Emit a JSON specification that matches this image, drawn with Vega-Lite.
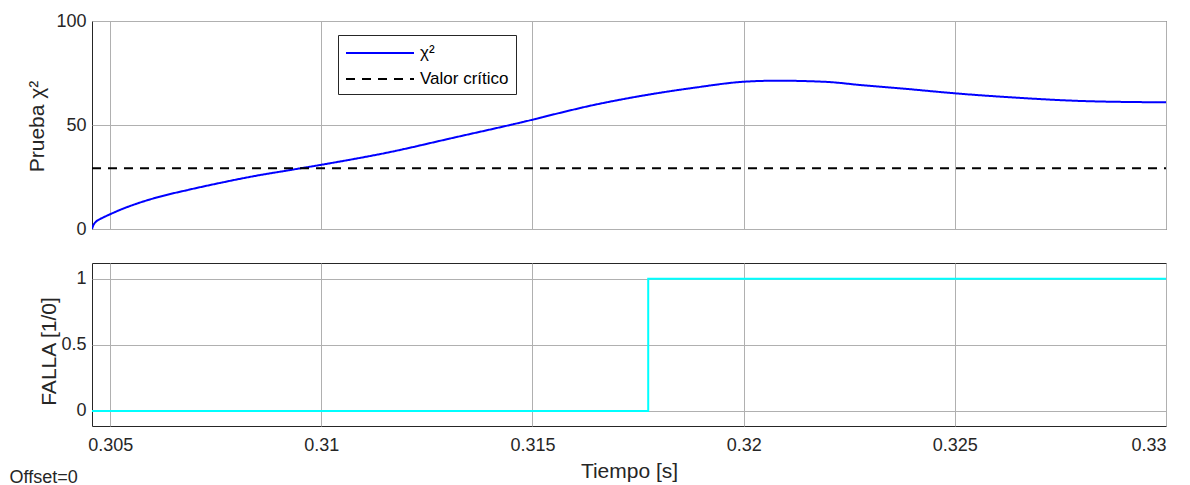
{
  "$schema": "https://vega.github.io/schema/vega-lite/v6.json",
  "padding": {"left": 9, "top": 11, "right": 5, "bottom": 2},
  "title": {"text": "Offset=0", "orient": "bottom", "anchor": "start", "frame": "bounds", "fontSize": 18, "fontWeight": "normal", "color": "#262626", "baseline": "alphabetic", "offset": 1, "dx": -16},
  "datasets": {
    "top": [
      {"t": 0.30457, "v": 0, "serie": "χ²"},
      {"t": 0.304597, "v": 1.6, "serie": "χ²"},
      {"t": 0.304621, "v": 2.5, "serie": "χ²"},
      {"t": 0.304668, "v": 3.6, "serie": "χ²"},
      {"t": 0.304763, "v": 4.8, "serie": "χ²"},
      {"t": 0.304882, "v": 6.0, "serie": "χ²"},
      {"t": 0.305, "v": 7.1, "serie": "χ²"},
      {"t": 0.30526, "v": 9.4, "serie": "χ²"},
      {"t": 0.30566, "v": 12.4, "serie": "χ²"},
      {"t": 0.306059, "v": 14.9, "serie": "χ²"},
      {"t": 0.306848, "v": 18.8, "serie": "χ²"},
      {"t": 0.307637, "v": 22.3, "serie": "χ²"},
      {"t": 0.308429, "v": 25.5, "serie": "χ²"},
      {"t": 0.309218, "v": 28.2, "serie": "χ²"},
      {"t": 0.310007, "v": 30.9, "serie": "χ²"},
      {"t": 0.311557, "v": 36.7, "serie": "χ²"},
      {"t": 0.313135, "v": 43.9, "serie": "χ²"},
      {"t": 0.315031, "v": 52.7, "serie": "χ²"},
      {"t": 0.315664, "v": 55.9, "serie": "χ²"},
      {"t": 0.316445, "v": 59.6, "serie": "χ²"},
      {"t": 0.317244, "v": 62.8, "serie": "χ²"},
      {"t": 0.318822, "v": 67.9, "serie": "χ²"},
      {"t": 0.320007, "v": 70.8, "serie": "χ²"},
      {"t": 0.320799, "v": 71.3, "serie": "χ²"},
      {"t": 0.321983, "v": 70.7, "serie": "χ²"},
      {"t": 0.322773, "v": 69.2, "serie": "χ²"},
      {"t": 0.32372, "v": 67.6, "serie": "χ²"},
      {"t": 0.325024, "v": 65.2, "serie": "χ²"},
      {"t": 0.326486, "v": 63.1, "serie": "χ²"},
      {"t": 0.328064, "v": 61.5, "serie": "χ²"},
      {"t": 0.33, "v": 60.9, "serie": "χ²"},
      {"t": 0.30457, "v": 29.2, "serie": "Valor crítico"},
      {"t": 0.33, "v": 29.2, "serie": "Valor crítico"}
    ],
    "falla": [
      {"t": 0.30457, "f": 0},
      {"t": 0.31774, "f": 1},
      {"t": 0.33, "f": 1}
    ]
  },
  "vconcat": [
    {
      "width": 1074,
      "height": 208,
      "data": {"name": "top"},
      "mark": {"type": "line", "strokeWidth": 2, "interpolate": "monotone", "clip": true},
      "encoding": {
        "x": {
          "field": "t", "type": "quantitative",
          "scale": {"domain": [0.30457, 0.33], "nice": false, "zero": false},
          "axis": {"values": [0.305, 0.31, 0.315, 0.32, 0.325, 0.33], "labels": false, "title": null}
        },
        "y": {
          "field": "v", "type": "quantitative",
          "scale": {"domain": [0, 100], "nice": false},
          "axis": {"values": [0, 50, 100], "title": "Prueba χ²", "titleX": -49, "titleY": 105, "titleBaseline": "alphabetic", "labelPadding": 6}
        },
        "color": {
          "field": "serie", "type": "nominal",
          "scale": {"domain": ["χ²", "Valor crítico"], "range": ["#0000ff", "#000000"]},
          "legend": {"title": null, "orient": "none", "legendX": 246, "legendY": 14, "symbolType": "M-1,0L5.8,0", "symbolSize": 400, "symbolStrokeWidth": 2, "labelOffset": 53, "labelFontSize": 17, "labelColor": "#000000", "rowPadding": 7, "padding": 7, "strokeColor": "#262626", "fillColor": "#ffffff"}
        },
        "strokeDash": {
          "field": "serie", "type": "nominal",
          "scale": {"domain": ["χ²", "Valor crítico"], "range": [[1, 0], [9, 7]]},
          "legend": {"title": null, "orient": "none", "legendX": 246, "legendY": 14, "symbolType": "M-1,0L5.8,0", "symbolSize": 400, "symbolStrokeWidth": 2, "labelOffset": 53, "labelFontSize": 17, "labelColor": "#000000", "rowPadding": 7, "padding": 7, "strokeColor": "#262626", "fillColor": "#ffffff"}
        }
      }
    },
    {
      "width": 1074,
      "height": 163,
      "data": {"name": "falla"},
      "mark": {"type": "line", "strokeWidth": 2, "interpolate": "step-after", "color": "#00ffff", "clip": true},
      "encoding": {
        "x": {
          "field": "t", "type": "quantitative",
          "scale": {"domain": [0.30457, 0.33], "nice": false, "zero": false},
          "axis": {"values": [0.305, 0.31, 0.315, 0.32, 0.325, 0.33], "format": "~g", "title": "Tiempo [s]", "labelBaseline": "alphabetic", "labelPadding": 24, "titleX": 537, "titleY": 51, "titleBaseline": "alphabetic"}
        },
        "y": {
          "field": "f", "type": "quantitative",
          "scale": {"domain": [-0.114, 1.12], "nice": false, "zero": false},
          "axis": {"values": [0, 0.5, 1], "format": "~g", "title": "FALLA [1/0]", "titleX": -37, "titleY": 88, "titleBaseline": "alphabetic", "labelPadding": 6}
        }
      }
    }
  ],
  "config": {
    "font": "Liberation Sans",
    "concat": {"spacing": 23},
    "view": {"stroke": "#262626", "strokeWidth": 1},
    "axis": {
      "grid": true, "gridColor": "#b0b0b0", "gridWidth": 1,
      "domain": false, "ticks": false,
      "labelFont": "Liberation Sans", "labelFontSize": 18, "labelColor": "#262626",
      "titleFont": "Liberation Sans", "titleFontSize": 21, "titleFontWeight": "normal", "titleColor": "#262626"
    },
    "legend": {"labelFont": "Liberation Sans"}
  }
}
